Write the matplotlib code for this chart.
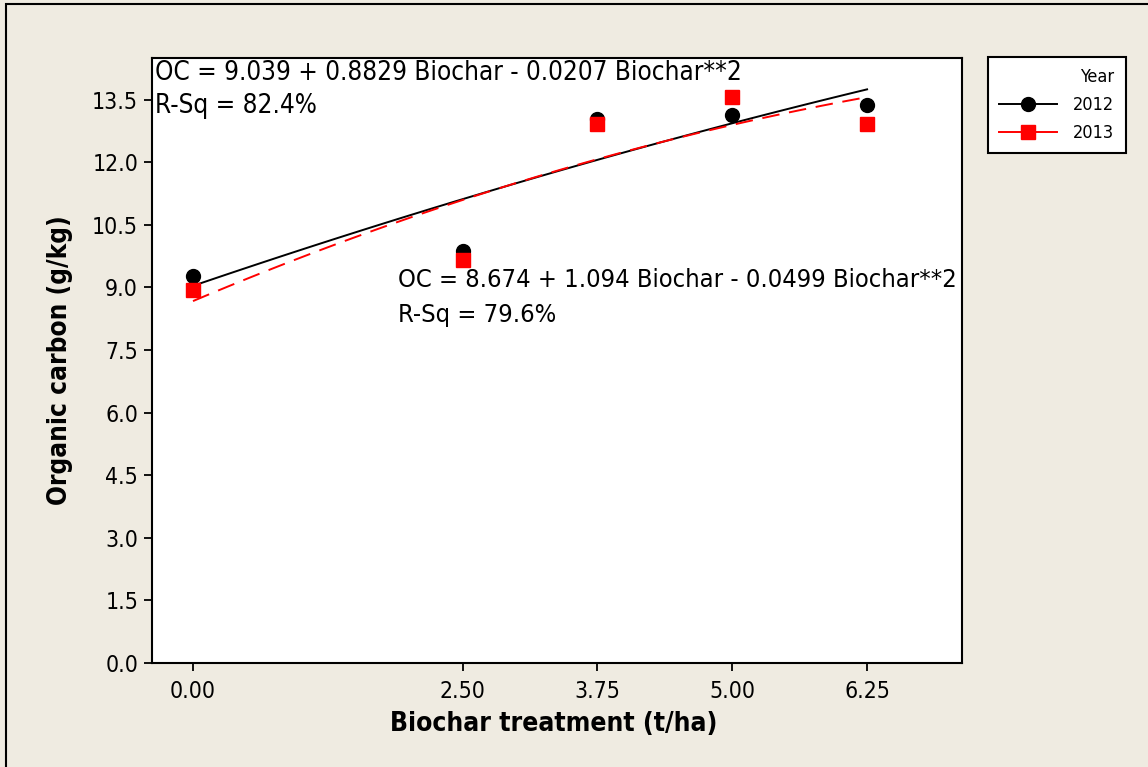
import numpy as np
import matplotlib
matplotlib.use("Agg")
import matplotlib.pyplot as plt
from matplotlib.patches import Rectangle
from matplotlib.lines import Line2D

# Data
biochar = [0.00, 2.50, 3.75, 5.00, 6.25]
oc_2012 = [9.27, 9.87, 13.04, 13.13, 13.37]
oc_2013 = [8.94, 9.66, 12.92, 13.56, 12.92]
# fitted quadratic coefficients (intercept, linear, quadratic) as shown on chart
coef_2012 = [9.039, 0.8829, -0.0207]
coef_2013 = [8.674, 1.094, -0.0499]
xticks = [0.00, 2.50, 3.75, 5.00, 6.25]
xticklabels = ["0.00", "2.50", "3.75", "5.00", "6.25"]
yticks = [0.0, 1.5, 3.0, 4.5, 6.0, 7.5, 9.0, 10.5, 12.0, 13.5]
eq_2012 = ["OC = 9.039 + 0.8829 Biochar - 0.0207 Biochar**2", "R-Sq = 82.4%"]
eq_2013 = ["OC = 8.674 + 1.094 Biochar - 0.0499 Biochar**2", "R-Sq = 79.6%"]

plt.rcParams['font.family'] = ['DejaVu Sans']
plt.rcParams['font.stretch'] = 'condensed'

W, H = 1148, 767
fig = plt.figure(figsize=(W/100, H/100), dpi=100)
bg = '#EFEBE1'
fig.patch.set_facecolor(bg)

# outer frame
fig.patches.append(Rectangle((6/W, -0.1), 1.2, 1 - 4/H + 0.1, transform=fig.transFigure,
                             fill=False, edgecolor='black', linewidth=1.5, zorder=0))

ax = fig.add_axes([152/W, 1 - 663/H, (962-152)/W, (663-58)/H])
ax.set_facecolor('white')

xs = np.linspace(0, 6.25, 60)
fit12 = coef_2012[0] + coef_2012[1]*xs + coef_2012[2]*xs**2
fit13 = coef_2013[0] + coef_2013[1]*xs + coef_2013[2]*xs**2
ax.plot(xs, fit12, color='black', lw=1.4, zorder=2)
ax.plot(xs, fit13, color='#FF0000', lw=1.4, dashes=(9, 5), zorder=2)
ax.plot(biochar, oc_2012, 'o', color='black', ms=10, zorder=3)
ax.plot(biochar, oc_2013, 's', color='#FF0000', ms=10, zorder=4)

ax.set_xlim(-0.38, 7.13)
ax.set_ylim(0, 14.5)
ax.set_xticks(xticks)
ax.set_xticklabels(xticklabels)
ax.set_yticks(yticks)
ax.set_yticklabels([f"{v:.1f}" for v in yticks])
ax.tick_params(direction='out', length=6, width=1.3, labelsize=16.5, pad=4)
ax.tick_params(axis='x', pad=6)
for s in ax.spines.values():
    s.set_linewidth(1.5)

ax.set_xlabel('Biochar treatment (t/ha)', fontsize=19, fontweight='bold')
ax.set_ylabel('Organic carbon (g/kg)', fontsize=18.8, fontweight='bold')
ax.xaxis.set_label_coords(0.496, -0.080)
ax.yaxis.set_label_coords(-0.098, 0.5)

def ay(py):
    return (663 - py) / 605.0

ax.text(0.0037, ay(80), eq_2012[0], transform=ax.transAxes, ha='left', va='baseline', fontsize=18.7)
ax.text(0.0037, ay(113), eq_2012[1], transform=ax.transAxes, ha='left', va='baseline', fontsize=18.7)
ax.text(0.3037, ay(287), eq_2013[0], transform=ax.transAxes, ha='left', va='baseline', fontsize=18.3)
ax.text(0.3037, ay(322), eq_2013[1], transform=ax.transAxes, ha='left', va='baseline', fontsize=18.3)

handles = [Line2D([], [], color='black', marker='o', ms=10, lw=1.4),
           Line2D([], [], color='#FF0000', marker='s', ms=10, lw=1.4)]
leg = fig.legend(handles, ['2012', '2013'], title='Year', loc='upper left',
                 bbox_to_anchor=(988/W, 1 - 57/H), fontsize=13, title_fontsize=13,
                 frameon=True, fancybox=False, edgecolor='black', facecolor='white',
                 framealpha=1, handlelength=3.2, handletextpad=0.9, borderpad=0.62,
                 labelspacing=0.55, borderaxespad=0, alignment='right')
leg.get_frame().set_linewidth(1.5)

fig.savefig('out.png', dpi=100, facecolor=bg)
